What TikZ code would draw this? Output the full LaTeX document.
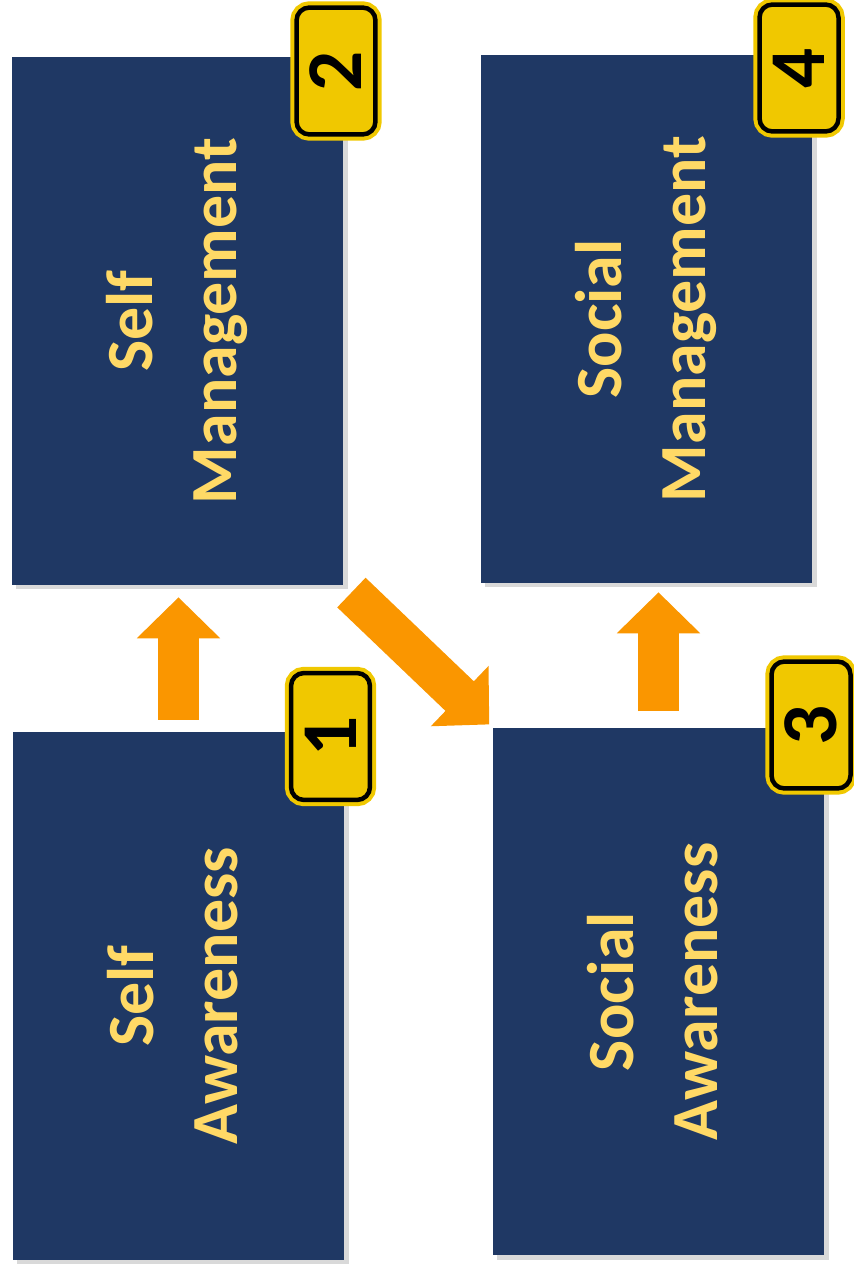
\documentclass[tikz,border=0pt]{standalone}
\usepackage{fontspec}
\setmainfont{Carlito}
\usepackage{tikz}
\usetikzlibrary{arrows.meta,positioning,shadows}
\definecolor{boxblue}{HTML}{1F3864}
\definecolor{txtyellow}{HTML}{FFD966}
\definecolor{badgeyellow}{HTML}{F0C800}
\definecolor{arrorange}{HTML}{FA9600}
\newcommand{\uptext}[1]{\rotatebox{90}{\begin{tabular}{@{}c@{}}#1\end{tabular}}}
\tikzset{
  box/.style={rectangle, fill=boxblue, text=txtyellow, inner sep=0pt,
    minimum width=6.64cm, minimum height=10.56cm,
    font=\fontsize{37.5}{47.6}\selectfont\bfseries,
    drop shadow={shadow xshift=2.5pt, shadow yshift=-2.5pt, opacity=.3}},
  badge/.style={rectangle, rounded corners=0.26cm, draw=black, line width=0.09cm,
    fill=badgeyellow, preaction={draw=badgeyellow, line width=0.25cm},
    minimum width=1.58cm, minimum height=2.54cm, inner sep=0pt,
    font=\fontsize{45}{54}\selectfont\bfseries},
  blk/.style={draw=arrorange, line width=0.82cm,
    -{Triangle[length=0.82cm, width=1.62cm]}},
}

\begin{document}
\begin{tikzpicture}[x=0.02cm, y=-0.02cm]
\useasboundingbox (0,0) rectangle (854,1264);
% boxes
\node[box] (selfaw) at (178.5,996)   {\uptext{Self\\Awareness}};
\node[box] (selfmg) at (177.5,321)   {\uptext{Self\\Management}};
\node[box] (socaw)  at (658.5,991.5) {\uptext{Social\\Awareness}};
\node[box] (socmg)  at (646.5,319)   {\uptext{Social\\Management}};
% arrows
\draw[blk, shorten <=0.24cm, shorten >=0.24cm] (selfaw.north) -- (selfaw.north |- selfmg.south);
\draw[blk, shorten <=0.21cm, shorten >=0.08cm] (selfmg.south east) -- (socaw.north west);
\draw[blk, shorten <=0.32cm, shorten >=0.18cm] (socaw.north) -- (socaw.north |- socmg.south);
% badges
\node[badge] (n1) at (330.5,736.5) {\rotatebox{90}{1}};
\node[badge] (n2) at (336,71)      {\rotatebox{90}{2}};
\node[badge] (n3) at (811,725)     {\rotatebox{90}{3}};
\node[badge] (n4) at (799,68)      {\rotatebox{90}{4}};
\end{tikzpicture}
\end{document}
